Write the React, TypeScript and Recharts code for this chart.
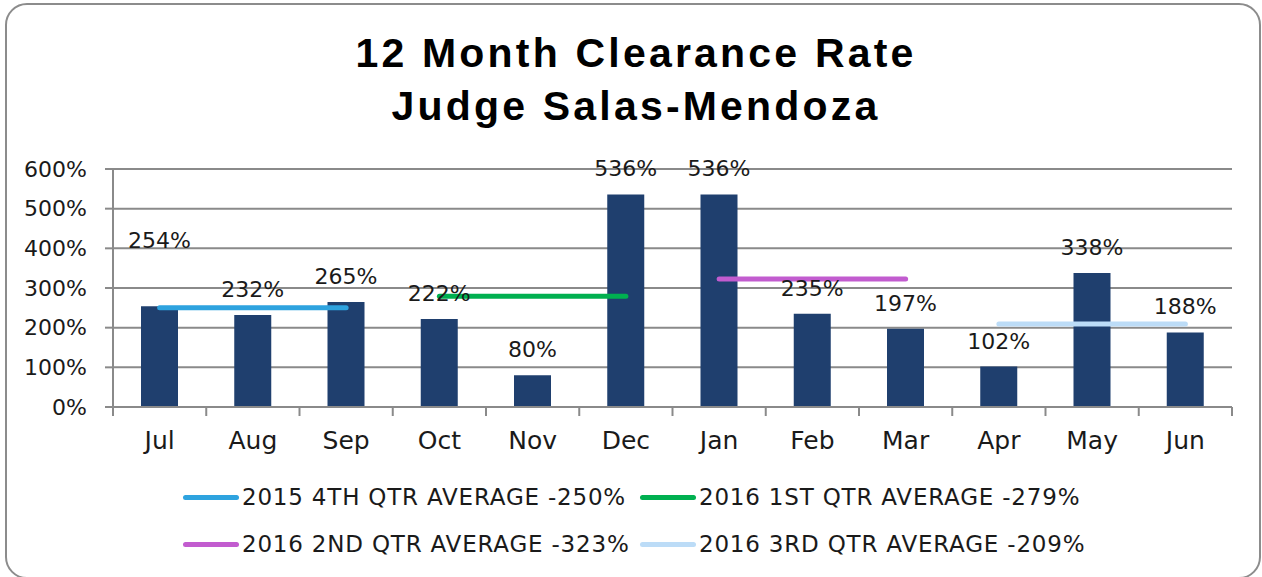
import React from "react";
import { ComposedChart, Bar, Line, XAxis, YAxis, CartesianGrid, LabelList } from "recharts";

const months = ["Jul", "Aug", "Sep", "Oct", "Nov", "Dec", "Jan", "Feb", "Mar", "Apr", "May", "Jun"];
const clearanceRate = [254, 232, 265, 222, 80, 536, 536, 235, 197, 102, 338, 188];
const q4_2015 = [250, 250, 250, null, null, null, null, null, null, null, null, null];
const q1_2016 = [null, null, null, 279, 279, 279, null, null, null, null, null, null];
const q2_2016 = [null, null, null, null, null, null, 323, 323, 323, null, null, null];
const q3_2016 = [null, null, null, null, null, null, null, null, null, 209, 209, 209];
const yTicks = [0, 100, 200, 300, 400, 500, 600];
const seriesNames = [
  "2015 4TH QTR AVERAGE -250%",
  "2016 1ST QTR AVERAGE -279%",
  "2016 2ND QTR AVERAGE -323%",
  "2016 3RD QTR AVERAGE -209%",
];
const seriesColors = ["#2EA3DF", "#00B050", "#C25CCF", "#BCDCF7"];

const data = months.map((m, i) => ({
  month: m,
  rate: clearanceRate[i],
  q4: q4_2015[i],
  q1: q1_2016[i],
  q2: q2_2016[i],
  q3: q3_2016[i],
}));

const W = 1262;
const H = 577;
const PLOT_LEFT = 113;
const PLOT_RIGHT = 30;
const STEP = (W - PLOT_LEFT - PLOT_RIGHT) / months.length;
const FONT = "'DejaVu Sans', sans-serif";
const GRID = "#8a8a8a";
const TEXT = "#1a1a1a";

const XTick = (props: any) => {
  const { x, y, payload, index } = props;
  const half = STEP / 2;
  return (
    <g>
      <line x1={x - half} x2={x - half} y1={y - 8} y2={y + 1} stroke={GRID} strokeWidth={2} />
      {index === months.length - 1 && (
        <line x1={x + half} x2={x + half} y1={y - 8} y2={y + 1} stroke={GRID} strokeWidth={2} />
      )}
      <text x={x} y={y + 34} textAnchor="middle" fill={TEXT} fontSize={25} fontFamily={FONT}>
        {payload.value}
      </text>
    </g>
  );
};

const BarLabel = (props: any) => {
  const { x, y, width, value, index } = props;
  const lift = index === 0 ? 58 : 18;
  return (
    <text x={x + width / 2} y={y - lift} textAnchor="middle" fill={TEXT} fontSize={22} fontFamily={FONT}>
      {value}%
    </text>
  );
};

export default function App() {
  const keys = ["q4", "q1", "q2", "q3"];
  return (
    <div style={{ position: "absolute", left: 0, top: 0, width: W, height: H, background: "#fff", overflow: "hidden" }}>
      <div
        style={{
          position: "absolute",
          left: 5,
          top: 3,
          width: 1252,
          height: 572,
          border: "2px solid #8c8c8c",
          borderRadius: 22,
        }}
      />
      <div
        style={{
          position: "absolute",
          left: 5,
          width: W,
          top: 27,
          textAlign: "center",
          fontFamily: "'Liberation Sans', Arial, sans-serif",
          fontWeight: "bold",
          fontSize: 41,
          lineHeight: "53px",
          letterSpacing: 3.2,
          color: "#000",
        }}
      >
        <div>12 Month Clearance Rate</div>
        <div>Judge Salas-Mendoza</div>
      </div>
      <div style={{ position: "absolute", left: 0, top: 0 }}>
        <ComposedChart
          width={W}
          height={H}
          data={data}
          margin={{ top: 169, right: PLOT_RIGHT, left: 0, bottom: 120 }}
        >
          <CartesianGrid vertical={false} stroke={GRID} strokeWidth={2} />
          <XAxis
            dataKey="month"
            height={50}
            axisLine={{ stroke: GRID, strokeWidth: 2 }}
            tickLine={false}
            tickSize={8}
            tickMargin={0}
            interval={0}
            tick={<XTick />}
          />
          <YAxis
            width={PLOT_LEFT}
            domain={[0, 600]}
            ticks={yTicks}
            tickFormatter={(v: number) => `${v}%`}
            axisLine={{ stroke: GRID, strokeWidth: 2 }}
            tickLine={{ stroke: GRID, strokeWidth: 2 }}
            tickSize={8}
            tickMargin={18}
            tick={{ fill: TEXT, fontSize: 22, fontFamily: FONT }}
            interval={0}
          />
          <Bar dataKey="rate" fill="#1F3F6E" barSize={37} isAnimationActive={false}>
            <LabelList dataKey="rate" content={<BarLabel />} />
          </Bar>
          {keys.map((k, i) => (
            <Line
              key={k}
              dataKey={k}
              name={seriesNames[i]}
              stroke={seriesColors[i]}
              strokeWidth={5}
              strokeLinecap="round"
              dot={false}
              activeDot={false}
              connectNulls={false}
              isAnimationActive={false}
            />
          ))}
        </ComposedChart>
      </div>
      {seriesNames.map((name, i) => {
        const col = i % 2;
        const row = Math.floor(i / 2);
        return (
          <div
            key={name}
            style={{
              position: "absolute",
              left: col === 0 ? 183 : 640,
              top: row === 0 ? 480 : 527,
              height: 34,
              display: "flex",
              alignItems: "center",
              fontFamily: FONT,
              fontSize: 23,
              letterSpacing: 0.8,
              color: TEXT,
              whiteSpace: "nowrap",
            }}
          >
            <div style={{ width: 56, height: 5, borderRadius: 3, background: seriesColors[i], marginRight: 3 }} />
            <span>{name}</span>
          </div>
        );
      })}
    </div>
  );
}
